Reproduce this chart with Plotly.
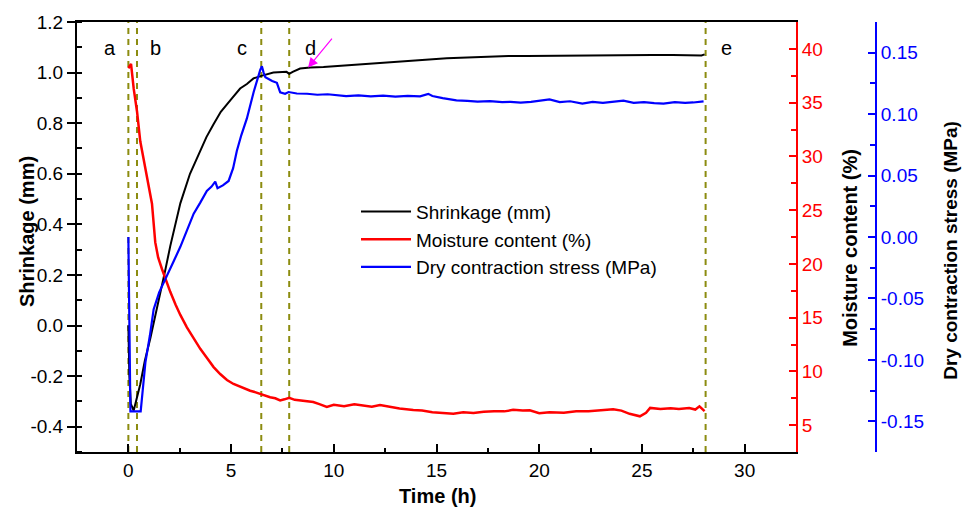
import plotly.graph_objects as go

# ---------------- data ----------------
t_shrink = [0.0, 0.05, 0.12, 0.26, 0.58, 0.8, 1.07, 1.3, 1.56, 1.8, 2.04, 2.3, 2.53, 3.0, 3.42,
            3.8, 4.14, 4.5, 4.96, 5.44, 5.77, 6.09, 6.47, 7.06, 7.5, 7.7, 7.83, 8.0, 8.36, 8.85,
            9.5, 10.2, 11.0, 12.0, 13.0, 13.9, 14.7, 15.5, 16.5, 17.6, 18.5, 19.4, 20.35, 21.2,
            22.0, 22.8, 23.6, 24.5, 25.5, 26.5, 27.6, 27.9, 28.05]
shrinkage = [0.0, -0.2, -0.31, -0.336, -0.232, -0.14, -0.05, 0.035, 0.119, 0.22, 0.314, 0.40,
             0.483, 0.60, 0.678, 0.745, 0.795, 0.845, 0.89, 0.937, 0.955, 0.977, 0.987, 1.0,
             1.002, 1.003, 0.995, 1.003, 1.016, 1.02, 1.022, 1.026, 1.032, 1.038, 1.044, 1.05,
             1.053, 1.057, 1.06, 1.064, 1.066, 1.066, 1.067, 1.068, 1.069, 1.07, 1.07, 1.069,
             1.07, 1.07, 1.07, 1.068, 1.072]

t_moist = [0.0, 0.13, 0.26, 0.42, 0.58, 0.75, 0.9, 1.15, 1.31, 1.45, 1.64, 1.85, 2.04, 2.3,
           2.53, 2.85, 3.18, 3.5, 3.82, 4.15, 4.47, 4.8, 5.12, 5.5, 5.93, 6.2, 6.42, 6.7, 6.9,
           7.15, 7.39, 7.6, 7.83, 8.1, 8.4, 8.7, 9.0, 9.3, 9.66, 10.0, 10.5, 11.0, 11.5, 11.85,
           12.25, 12.7, 13.2, 13.87, 14.3, 14.8, 15.3, 15.82, 16.3, 16.8, 17.3, 17.8, 18.3,
           18.73, 19.2, 19.54, 20.0, 20.5, 21.2, 21.8, 22.4, 23.0, 23.6, 24.0, 24.4, 24.9, 25.2,
           25.4, 25.9, 26.4, 26.8, 27.3, 27.6, 27.8, 28.05]
moisture = [38.2, 38.6, 36.3, 34.2, 31.4, 29.6, 28.0, 25.6, 22.0, 20.6, 19.5, 18.3, 17.4, 16.2,
            15.25, 14.1, 13.1, 12.1, 11.27, 10.4, 9.75, 9.2, 8.83, 8.5, 8.2, 8.05, 7.9, 7.75,
            7.6, 7.5, 7.3, 7.4, 7.55, 7.35, 7.3, 7.2, 7.15, 6.95, 6.7, 6.9, 6.75, 6.95, 6.8,
            6.72, 6.88, 6.7, 6.55, 6.4, 6.35, 6.2, 6.15, 6.05, 6.2, 6.12, 6.25, 6.3, 6.28, 6.42,
            6.35, 6.38, 6.1, 6.2, 6.15, 6.28, 6.3, 6.4, 6.48, 6.35, 6.05, 5.82, 6.15, 6.6, 6.5,
            6.58, 6.5, 6.6, 6.45, 6.75, 6.3]

t_stress = [0.0, 0.1, 0.6, 0.83, 1.05, 1.23, 1.5, 1.88, 2.2, 2.53, 2.85, 3.18, 3.5, 3.82, 4.05,
            4.23, 4.34, 4.6, 4.88, 5.1, 5.28, 5.5, 5.77, 6.1, 6.42, 6.5, 6.58, 6.67, 7.0, 7.23,
            7.39, 7.63, 7.8, 8.2, 8.7, 9.2, 9.7, 10.2, 10.6, 11.2, 11.8, 12.4, 13.0, 13.6, 14.2,
            14.6, 14.8, 15.3, 15.97, 16.5, 17.0, 17.6, 18.2, 18.6, 19.1, 19.6, 20.0, 20.5, 21.0,
            21.5, 22.1, 22.6, 23.1, 23.6, 24.1, 24.6, 25.1, 25.6, 26.05, 26.6, 27.1, 27.5, 28.0]
stress = [0.0, -0.142, -0.142, -0.102, -0.08, -0.059, -0.045, -0.032, -0.02, -0.008, 0.005,
          0.019, 0.028, 0.0375, 0.041, 0.045, 0.0397, 0.042, 0.0456, 0.056, 0.07, 0.083, 0.0965,
          0.118, 0.136, 0.139, 0.134, 0.130, 0.127, 0.1255, 0.1178, 0.1166, 0.118, 0.1168,
          0.1166, 0.1158, 0.1162, 0.1153, 0.1147, 0.1152, 0.1145, 0.1150, 0.1142, 0.1148,
          0.1145, 0.1165, 0.1148, 0.113, 0.1112, 0.1108, 0.1102, 0.1106, 0.1098, 0.110, 0.1093,
          0.110, 0.1108, 0.112, 0.1098, 0.1105, 0.1085, 0.110, 0.1092, 0.1102, 0.111, 0.1092,
          0.1098, 0.109, 0.1085, 0.1098, 0.1092, 0.1095, 0.1104]

stage_lines = [0.0, 0.42, 6.47, 7.83, 28.1]
stage_labels = ["a", "b", "c", "d", "e"]
stage_label_x = [-0.87, 1.31, 5.54, 8.85, 29.1]

x_ticks = [0, 5, 10, 15, 20, 25, 30]
y1_ticks = [-0.4, -0.2, 0.0, 0.2, 0.4, 0.6, 0.8, 1.0, 1.2]
y1_text = ["-0.4", "-0.2", "0.0", "0.2", "0.4", "0.6", "0.8", "1.0", "1.2"]
y2_ticks = [5, 10, 15, 20, 25, 30, 35, 40]
y3_ticks = [-0.15, -0.10, -0.05, 0.0, 0.05, 0.10, 0.15]
y3_text = ["-0.15", "-0.10", "-0.05", "0.00", "0.05", "0.10", "0.15"]

# ---------------- figure ----------------
FONT = "Liberation Sans, Arial, sans-serif"
W, H = 964, 520
ML, MR, MT, MB = 77, 80, 16, 68
pw = W - ML - MR
ph = H - MT - MB
xdom_end = (796 - ML) / pw
blue_pos = (876 - ML) / pw

fig = go.Figure()
fig.add_trace(go.Scatter(x=t_shrink, y=shrinkage, mode="lines", name="Shrinkage (mm)",
                         line=dict(color="black", width=2), yaxis="y"))
fig.add_trace(go.Scatter(x=t_moist, y=moisture, mode="lines", name="Moisture content (%)",
                         line=dict(color="#FF0000", width=2.5), yaxis="y2"))
fig.add_trace(go.Scatter(x=t_stress, y=stress, mode="lines", name="Dry contraction stress (MPa)",
                         line=dict(color="#0000FF", width=2.2), yaxis="y3"))

for xv in stage_lines:
    fig.add_shape(type="line", xref="x", yref="paper", x0=xv, x1=xv, y0=0, y1=1,
                  line=dict(color="#8C8C10", width=2, dash="6px,5px"), layer="below")

ann = []
for lab, xv in zip(stage_labels, stage_label_x):
    ann.append(dict(x=xv, y=1.099, xref="x", yref="y", text=lab, showarrow=False,
                    xanchor="center", yanchor="middle",
                    font=dict(family=FONT, size=20, color="black")))
ann.append(dict(x=8.75, y=1.02, xref="x", yref="y", ax=9.97, ay=1.14, axref="x", ayref="y",
                text="", showarrow=True, arrowhead=2, arrowsize=1.6, arrowwidth=1.2,
                arrowcolor="#FF00FF"))
# axis titles
title_font = dict(family=FONT, size=20, color="black")
ann.append(dict(x=(27 - ML) / pw, y=(452 - 229) / ph, xref="paper", yref="paper",
                text="<b>Shrinkage (mm)</b>", textangle=-90, showarrow=False,
                xanchor="center", yanchor="middle", font=title_font))
ann.append(dict(x=(850 - ML) / pw, y=(452 - 245) / ph, xref="paper", yref="paper",
                text="<b>Moisture content (%)</b>", textangle=-90, showarrow=False,
                xanchor="center", yanchor="middle", font=title_font))
ann.append(dict(x=(951 - ML) / pw, y=(452 - 248) / ph, xref="paper", yref="paper",
                text="<b>Dry contraction stress (MPa)</b>", textangle=-90, showarrow=False,
                xanchor="center", yanchor="middle",
                font=dict(family=FONT, size=19, color="black")))
ann.append(dict(x=(437 - ML) / pw, y=-(497 - 452) / ph, xref="paper", yref="paper",
                text="<b>Time (h)</b>", showarrow=False,
                xanchor="center", yanchor="middle", font=title_font))

fig.update_layout(
    width=W, height=H,
    margin=dict(l=ML, r=MR, t=MT, b=MB),
    paper_bgcolor="white", plot_bgcolor="white",
    font=dict(family=FONT, size=19, color="black"),
    showlegend=True,
    legend=dict(x=(356 - ML) / pw, y=(452 - 189) / ph, xanchor="left", yanchor="top",
                bgcolor="rgba(0,0,0,0)", font=dict(family=FONT, size=19, color="black"),
                tracegroupgap=0, itemwidth=50),
    annotations=ann,
    xaxis=dict(domain=[0, xdom_end], range=[-2.5, 32.5], tickvals=x_ticks,
               ticks="inside", ticklen=8, tickwidth=2, tickcolor="black",
               showline=True, linecolor="black", linewidth=2, mirror=True,
               showgrid=False, zeroline=False,
               minor=dict(dtick=2.5, tick0=0, ticks="inside", ticklen=4, tickwidth=2,
                          tickcolor="black", showgrid=False),
               tickfont=dict(family=FONT, size=19, color="black")),
    yaxis=dict(range=[-0.5, 1.2], tickvals=y1_ticks, ticktext=y1_text,
               ticks="outside", ticklen=8, tickwidth=2, tickcolor="black",
               showline=True, linecolor="black", linewidth=2,
               showgrid=False, zeroline=False,
               minor=dict(dtick=0.1, tick0=0, ticks="inside", ticklen=5, tickwidth=2,
                          tickcolor="black", showgrid=False),
               tickfont=dict(family=FONT, size=19, color="black")),
    yaxis2=dict(range=[2.5, 42.5], tickvals=y2_ticks, overlaying="y", side="right",
                anchor="x", ticks="inside", ticklen=7, tickwidth=2, tickcolor="#FF0000",
                showline=True, linecolor="#FF0000", linewidth=2,
                showgrid=False, zeroline=False,
                minor=dict(dtick=2.5, tick0=0, ticks="inside", ticklen=5, tickwidth=2,
                           tickcolor="#FF0000", showgrid=False),
                tickfont=dict(family=FONT, size=19, color="#FF0000")),
    yaxis3=dict(range=[-0.175, 0.175], tickvals=y3_ticks, ticktext=y3_text, overlaying="y",
                side="right", anchor="free", position=blue_pos,
                ticks="inside", ticklen=7, tickwidth=2, tickcolor="#0000FF",
                showline=True, linecolor="#0000FF", linewidth=2,
                showgrid=False, zeroline=False,
                minor=dict(dtick=0.025, tick0=0, ticks="inside", ticklen=5, tickwidth=2,
                           tickcolor="#0000FF", showgrid=False),
                tickfont=dict(family=FONT, size=19, color="#0000FF")),
)

fig.write_html("out.html")
